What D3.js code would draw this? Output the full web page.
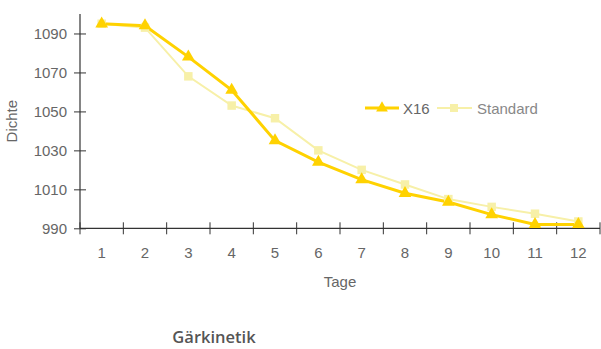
<!DOCTYPE html>
<html><head><meta charset="utf-8">
<script src="https://cdn.jsdelivr.net/npm/d3@7"></script>
<style>body{margin:0;background:#fff}svg{display:block}</style>
</head><body>
<svg id="c" width="601" height="349"></svg>
<script>
const days = ["1","2","3","4","5","6","7","8","9","10","11","12"];
const x16 = [1095,1094,1078,1061,1035,1024,1015,1008,1003.5,997,992,992];
const standard = [1095,1093,1068,1053,1046.5,1030,1020,1012.5,1005,1001,997.5,993.5];
const yTicks = [990,1010,1030,1050,1070,1090];
const seriesNames = ["X16","Standard"];

(function(){
const svg = d3.select("#c");
const mL=80, mR=600, mT=14, mB=228.3;
const x = d3.scaleBand().domain(days).range([mL,mR]);
const y = d3.scaleLinear().domain([990,1100]).range([mB,mT]);
const font = "Liberation Sans, Arial, sans-serif";
const gold = "#FFD200", pale = "#F7F0A8";

const yAxis = svg.append("g").attr("transform",`translate(${mL},0)`)
  .call(d3.axisLeft(y).tickValues(yTicks).tickFormat(d3.format("d")).tickSize(6).tickSizeOuter(0).tickPadding(7));
yAxis.selectAll(".tick line").attr("x2",6).attr("x1",-6);
const xAxis = svg.append("g").attr("transform",`translate(0,${mB})`)
  .call(d3.axisBottom(x).tickSize(0).tickSizeOuter(0).tickPadding(19));
const bounds = days.map(d=>x(d)).concat([mR]);
xAxis.selectAll(".bt").data(bounds).enter().append("line")
  .attr("x1",d=>d).attr("x2",d=>d).attr("y1",-6).attr("y2",6)
  .attr("stroke","#333").attr("stroke-width",1);
[yAxis,xAxis].forEach(g=>{
  g.select(".domain").attr("stroke","#333").attr("stroke-width",1.2);
  g.selectAll(".tick line").attr("stroke","#333");
  g.selectAll("text").attr("font-family",font).attr("font-size",15).attr("fill","#666");
});
yAxis.select(".domain").attr("d",`M0,${mT}V${mB}`);
xAxis.select(".domain").attr("d",`M${mL},0H${mR}`);

svg.append("text").attr("transform",`translate(16.5,${(mT+mB)/2}) rotate(-90)`)
  .attr("text-anchor","middle").attr("font-family",font).attr("font-size",15).attr("fill","#666").text("Dichte");
svg.append("text").attr("x",(mL+mR)/2).attr("y",287).attr("text-anchor","middle")
  .attr("font-family",font).attr("font-size",15).attr("fill","#666").text("Tage");

const cx = d=>x(d)+x.bandwidth()/2;
const line = d3.line().x((v,i)=>cx(days[i])).y(v=>y(v));
svg.append("path").datum(standard).attr("d",line).attr("fill","none").attr("stroke",pale).attr("stroke-width",2);
svg.append("path").datum(x16).attr("d",line).attr("fill","none").attr("stroke",gold).attr("stroke-width",3);
const sq = d3.symbol().type(d3.symbolSquare).size(72);
const tri = d3.symbol().type(d3.symbolTriangle).size(70);
svg.selectAll(".sq").data(standard).enter().append("path")
  .attr("d",sq).attr("transform",(v,i)=>`translate(${cx(days[i])},${y(v)})`).attr("fill",pale);
svg.selectAll(".tr").data(x16).enter().append("path")
  .attr("d",tri).attr("transform",(v,i)=>`translate(${cx(days[i])},${y(v)})`).attr("fill",gold);

const lg = svg.append("g").attr("transform","translate(0,108)");
lg.append("line").attr("x1",365).attr("x2",399).attr("stroke",gold).attr("stroke-width",3);
lg.append("path").attr("d",d3.symbol().type(d3.symbolTriangle).size(60)).attr("transform","translate(382,0)").attr("fill",gold);
lg.append("text").attr("x",403).attr("y",5.5).attr("font-family",font).attr("font-size",15).attr("fill","#666").text(seriesNames[0]);
lg.append("line").attr("x1",437).attr("x2",472).attr("stroke",pale).attr("stroke-width",2);
lg.append("path").attr("d",d3.symbol().type(d3.symbolSquare).size(64)).attr("transform","translate(454,0)").attr("fill",pale);
lg.append("text").attr("x",477).attr("y",5.5).attr("font-family",font).attr("font-size",15).attr("fill","#888").text(seriesNames[1]);

svg.append("text").attr("x",214).attr("y",343).attr("text-anchor","middle")
  .attr("font-family","Open Sans, sans-serif").attr("font-weight",600).attr("font-size",16.5).attr("fill","#555").text("Gärkinetik");
})();
</script>
</body></html>
